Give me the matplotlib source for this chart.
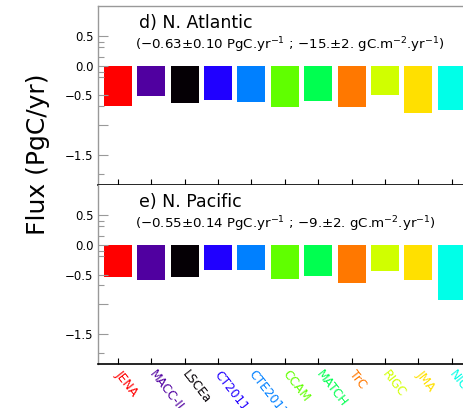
import matplotlib
matplotlib.use("Agg")
import matplotlib.pyplot as plt
import numpy as np

# ---- data ----
models = ["JENA", "MACC-II", "LSCEa", "CT2011_oi", "CTE2013", "CCAM",
          "MATCH", "TrC", "RIGC", "JMA", "NICAM"]
colors = ["#ff0000", "#5000a0", "#050005", "#2000ff", "#0080ff", "#60ff00",
          "#00ff50", "#ff7800", "#d0ff00", "#ffe000", "#00ffe8"]

atlantic = [-0.67, -0.51, -0.63, -0.57, -0.61, -0.69, -0.59, -0.69, -0.49, -0.79, -0.75]
pacific = [-0.54, -0.60, -0.54, -0.42, -0.42, -0.58, -0.52, -0.64, -0.44, -0.60, -0.92]

panels = [
    ("d) N. Atlantic",
     r"($-$0.63$\pm$0.10 PgC.yr$^{-1}$ ; $-$15.$\pm$2. gC.m$^{-2}$.yr$^{-1}$)",
     atlantic),
    ("e) N. Pacific",
     r"($-$0.55$\pm$0.14 PgC.yr$^{-1}$ ; $-$9.$\pm$2. gC.m$^{-2}$.yr$^{-1}$)",
     pacific),
]

major_ticks = [0.5, 0.0, -0.5, -1.0, -1.5]
major_labels = ["0.5", "0.0", "\u22120.5", "", "\u22121.5"]
minor_ticks = [0.4, 0.32, 0.14, -0.1, -0.19, -0.68, -1.82]

W, H = 464, 408
fig = plt.figure(figsize=(W / 100, H / 100), dpi=100)

left = 97.7 / W
width = (500 - 97.7) / W
x_right = -0.6 + (500 - 97.7) / 33.4
tops = [6, 185]
ph = 179

x = np.arange(len(models))
axes = []
for (title, sub, vals), top in zip(panels, tops):
    ax = fig.add_axes([left, 1 - (top + ph) / H, width, ph / H])
    ax.bar(x, vals, width=0.84, color=colors)
    ax.set_xlim(-0.6, x_right)
    ax.set_ylim(-2.0, 1.0)
    ax.set_yticks(major_ticks)
    ax.set_yticklabels(major_labels, fontsize=8.5)
    ax.set_yticks(minor_ticks, minor=True)
    ax.set_xticks(x)
    ax.tick_params(axis="y", which="major", direction="in", length=7, width=0.8,
                   color="#999999", pad=3)
    ax.tick_params(axis="y", which="minor", direction="in", length=4, width=0.8,
                   color="#999999")
    ax.tick_params(axis="x", direction="in", length=4, width=0.8, color="black")
    for s in ("left", "top", "right"):
        ax.spines[s].set_color("#999999")
        ax.spines[s].set_linewidth(1.0)
    ax.spines["bottom"].set_color("black")
    ax.spines["bottom"].set_linewidth(1.2)
    ax.text(0.63, 0.71, title, fontsize=12.5, va="center")
    ax.text(0.51, 0.345, sub, fontsize=9.6, va="center")
    axes.append(ax)

axes[0].set_xticklabels([])
axes[1].spines["top"].set_visible(False)
axes[1].set_xticklabels(models, rotation=-52, rotation_mode="anchor",
                        ha="left", va="center", fontsize=8.8)
for lab, c in zip(axes[1].get_xticklabels(), colors):
    lab.set_color(c)
axes[1].tick_params(axis="x", pad=6)

fig.text(38 / W, 1 - 154 / H, "Flux (PgC/yr)", rotation=90, fontsize=18,
         ha="center", va="center")

fig.savefig("out.png", dpi=100)
